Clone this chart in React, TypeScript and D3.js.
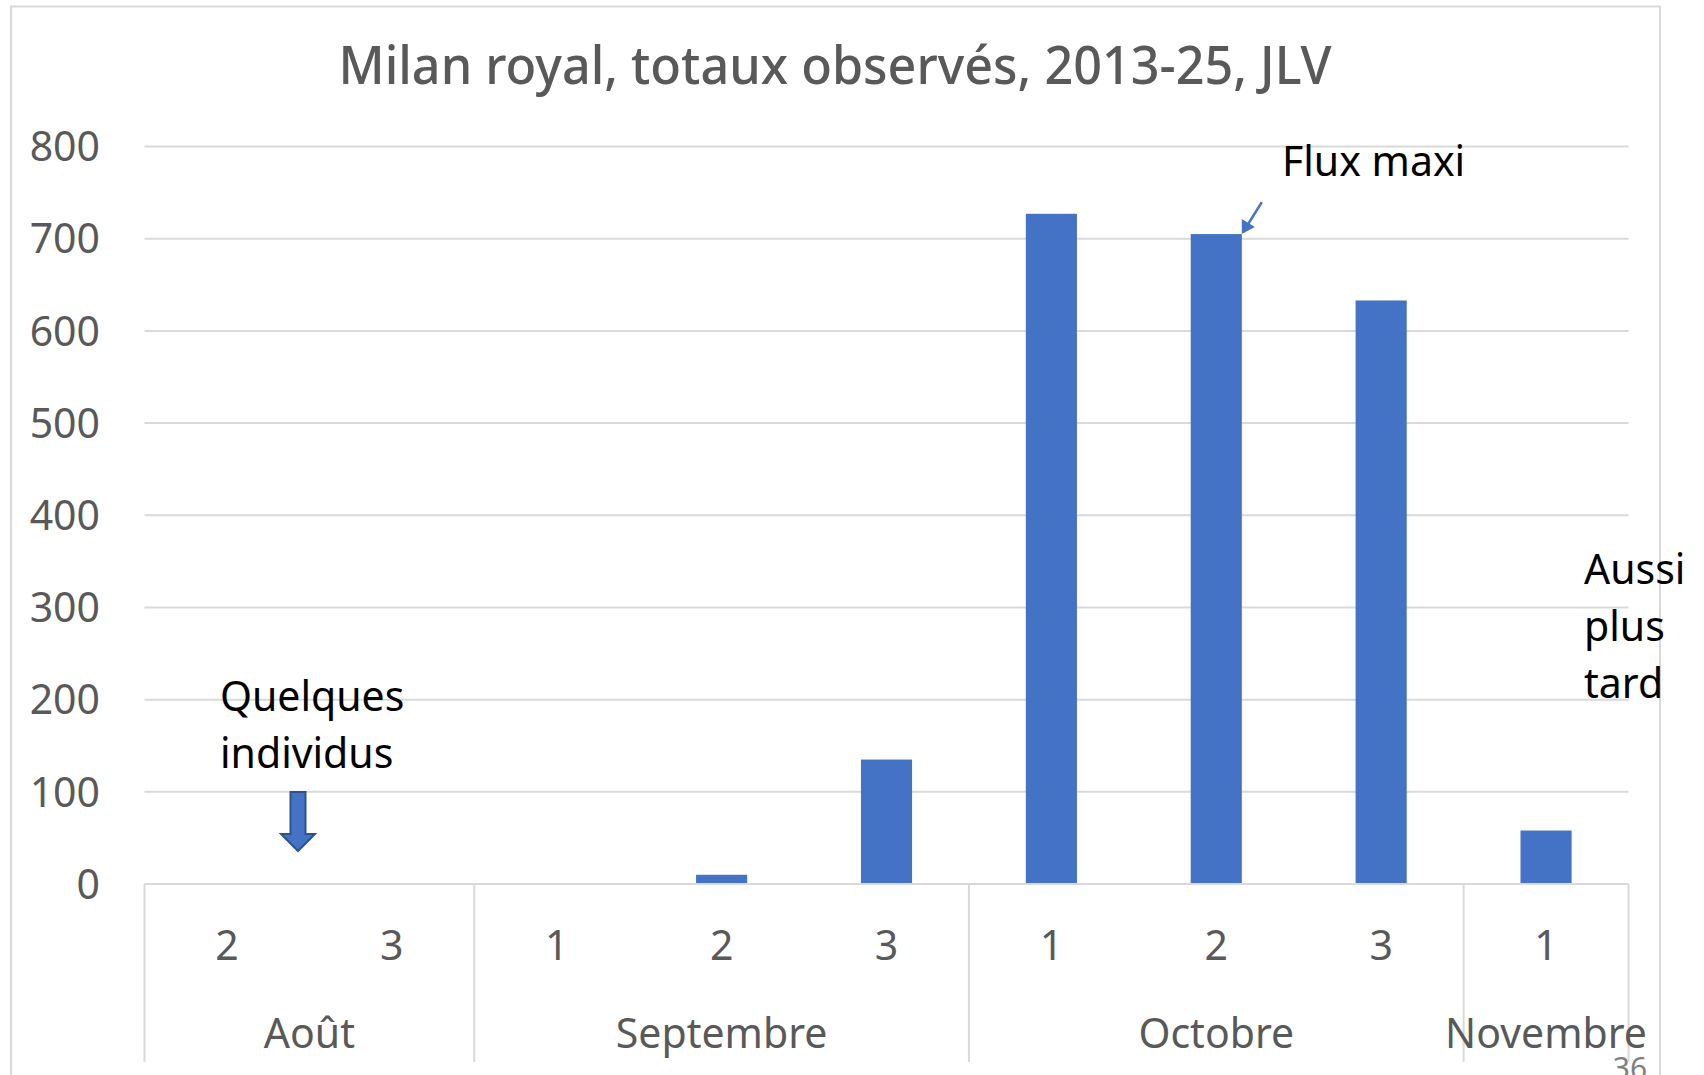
import React from 'react';
import * as d3 from 'd3';

// decades (1,2,3) per month, and the observed totals 2013-25
const decadeLabels = ['2', '3', '1', '2', '3', '1', '2', '3', '1'];
const monthOfBar = ['Août', 'Août', 'Septembre', 'Septembre', 'Septembre', 'Octobre', 'Octobre', 'Octobre', 'Novembre'];
const months = ['Août', 'Septembre', 'Octobre', 'Novembre'];
const totals = [0, 0, 0, 10, 135, 727, 705, 633, 58];
const yTicks = [0, 100, 200, 300, 400, 500, 600, 700, 800];

const W = 1704;
const H = 1075;
const FONT = '"Noto Sans", "Open Sans", sans-serif';
const GRID = '#d9d9d9';
const TXT = '#595959';
const BAR = '#4472C4';

export default function App() {
  const idx = totals.map((_, i) => i);
  const x = d3.scaleBand<number>().domain(idx).range([144.5, 1628.5]).paddingInner(0.69).paddingOuter(0.345);
  const y = d3.scaleLinear().domain([0, 800]).range([884, 146.5]);
  const bw = x.bandwidth();
  const step = x.step();
  const cx = (i: number) => (x(i) as number) + bw / 2;

  // bords des groupes de mois
  const bounds: number[] = [];
  months.forEach(m => {
    const first = monthOfBar.indexOf(m);
    bounds.push(cx(first) - step / 2);
  });
  bounds.push(x.range()[1]);

  const monthCenters = months.map((m, k) => (bounds[k] + bounds[k + 1]) / 2);

  // fleche "Flux maxi" vers le haut de la barre Oct 2
  const ax = (x(6) as number) + bw;
  const ay = y(totals[6]);

  // fleche bloc "Quelques individus"
  const bx = 298;
  const blockArrow = d3.path();
  blockArrow.moveTo(bx - 7.5, 792);
  blockArrow.lineTo(bx + 7.5, 792);
  blockArrow.lineTo(bx + 7.5, 834);
  blockArrow.lineTo(bx + 17, 834);
  blockArrow.lineTo(bx, 851);
  blockArrow.lineTo(bx - 17, 834);
  blockArrow.lineTo(bx - 7.5, 834);
  blockArrow.closePath();

  return (
    <svg width={W} height={H} style={{ position: 'absolute', left: 0, top: 0, background: '#fff' }} fontFamily={FONT}>
      <rect x={0} y={0} width={W} height={H} fill="#fff" />
      {/* cadre */}
      <path d={`M11,${H + 5} L11,6.5 L1660,6.5 L1660,${H + 5}`} fill="none" stroke={GRID} strokeWidth={2} />

      <text x={835} y={84} textAnchor="middle" fontSize={53} fontWeight={500} fill={TXT} textLength={993} lengthAdjust="spacingAndGlyphs">
        Milan royal, totaux observés, 2013-25, JLV
      </text>

      {/* grille + graduations */}
      {yTicks.map(t => (
        <g key={t}>
          {t > 0 && <line x1={x.range()[0]} x2={x.range()[1]} y1={y(t)} y2={y(t)} stroke={GRID} strokeWidth={2} />}
          <text x={100} y={y(t)} dy="0.36em" textAnchor="end" fontSize={41} fill={TXT}>{t}</text>
        </g>
      ))}

      {/* barres */}
      {totals.map((v, i) => (
        <rect key={i} x={x(i)} y={y(v)} width={bw} height={y(0) - y(v)} fill={BAR} />
      ))}

      {/* axe x */}
      <line x1={x.range()[0]} x2={x.range()[1]} y1={y(0)} y2={y(0)} stroke={GRID} strokeWidth={2} />
      {bounds.map((b, k) => (
        <line key={k} x1={b} x2={b} y1={y(0)} y2={1062} stroke={GRID} strokeWidth={2} />
      ))}
      {decadeLabels.map((d, i) => (
        <text key={i} x={cx(i)} y={960} textAnchor="middle" fontSize={41} fill={TXT}>{d}</text>
      ))}
      {months.map((m, k) => (
        <text key={m} x={monthCenters[k]} y={1048} textAnchor="middle" fontSize={41} fill={TXT}>{m}</text>
      ))}

      {/* annotations */}
      <text x={1282} y={176} fontSize={41} fill="#000">Flux maxi</text>
      <line x1={ax + 20} y1={ay - 32} x2={ax + 5} y2={ay - 8} stroke={BAR} strokeWidth={2.5} />
      <path d={`M${ax},${ay} L${ax},${ay - 15} L${ax + 13},${ay - 7} Z`} fill={BAR} />

      <text x={220} y={711} fontSize={41} fill="#000">Quelques</text>
      <text x={220} y={768} fontSize={41} fill="#000">individus</text>
      <path d={blockArrow.toString()} fill={BAR} stroke="#2F528F" strokeWidth={2} />

      <text x={1584} y={584} fontSize={41} fill="#000">Aussi</text>
      <text x={1584} y={641} fontSize={41} fill="#000">plus</text>
      <text x={1584} y={698} fontSize={41} fill="#000">tard</text>

      <text x={1630} y={1079} textAnchor="middle" fontSize={30} fill="#7f7f7f">36</text>
    </svg>
  );
}
